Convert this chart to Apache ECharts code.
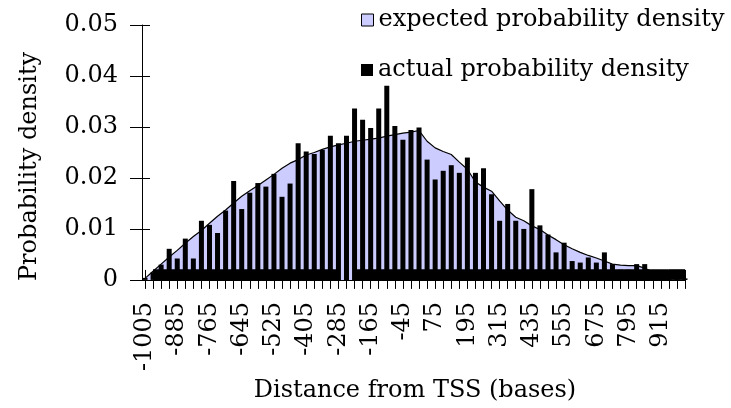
<!DOCTYPE html>
<html>
<head>
<meta charset="utf-8">
<script src="https://cdn.jsdelivr.net/npm/echarts@6/dist/echarts.min.js"></script>
<style>
html,body{margin:0;padding:0;background:#fff;}
#chart{width:731px;height:408px;}
</style>
</head>
<body>
<div id="chart"></div>
<script>
const categories = ['-1005','-975','-945','-915','-885','-855','-825','-795','-765','-735','-705','-675','-645','-615','-585','-555','-525','-495','-465','-435','-405','-375','-345','-315','-285','-255','-225','-195','-165','-135','-105','-75','-45','-15','15','45','75','105','135','165','195','225','255','285','315','345','375','405','435','465','495','525','555','585','615','645','675','705','735','765','795','825','855','885','915','945','975','1005'];

const expectedDensity = [0.0003,0.0017,0.0031,0.0045,0.0058,0.0072,0.0085,0.0097,0.0111,0.0125,0.0137,0.0151,0.0164,0.0175,0.0185,0.0196,0.0207,0.0219,0.0229,0.0236,0.0245,0.0250,0.0256,0.0261,0.0265,0.0268,0.0272,0.0274,0.0276,0.0278,0.0282,0.0285,0.0288,0.0290,0.0293,0.0272,0.0259,0.0252,0.0246,0.0231,0.0217,0.0192,0.0182,0.0174,0.0155,0.0137,0.0123,0.0116,0.0106,0.0099,0.0088,0.0079,0.0069,0.0061,0.0054,0.0048,0.0043,0.0037,0.0031,0.0029,0.0028,0.0028,0.0023,0.0016,0.0011,0.0011,0.0008,0.0005];

const actualDensity = [0.0004,0.0015,0.0030,0.0061,0.0042,0.0081,0.0042,0.0116,0.0108,0.0092,0.0136,0.0194,0.0139,0.0171,0.0190,0.0183,0.0208,0.0163,0.0189,0.0268,0.0252,0.0247,0.0255,0.0283,0.0268,0.0283,0.0336,0.0314,0.0298,0.0336,0.0381,0.0302,0.0275,0.0294,0.0299,0.0236,0.0197,0.0214,0.0225,0.0210,0.0240,0.0210,0.0219,0.0168,0.0116,0.0149,0.0116,0.0100,0.0178,0.0107,0.0089,0.0054,0.0073,0.0037,0.0034,0.0044,0.0034,0.0054,0.0031,0.0020,0.0020,0.0031,0.0031,0.0018,0.0005,0.0019,0.0008,0.0003];

// dark strip along the baseline (category ranges)
const baseStripRanges = [['-975','-315'],['-225','915'],['945','975']];
const baseStripTop = 0.0021;

const seriesNames = ['expected probability density','actual probability density'];
const yTicks = {min:0, max:0.05, interval:0.01};

const FONT = 'DejaVu Serif';
const chart = echarts.init(document.getElementById('chart'), null, {renderer:'canvas'});

const option = {
  animation:false,
  backgroundColor:'#fff',
  textStyle:{fontFamily:FONT,color:'#000'},
  grid:{left:145,right:46,top:25,bottom:128},
  legend:[
    {data:[{name:seriesNames[0],icon:'rect',itemStyle:{color:'#CCCCFF',borderColor:'#000',borderWidth:1}}],
     left:361,top:8,padding:0,itemWidth:12,itemHeight:12,selectedMode:false,
     textStyle:{fontFamily:FONT,fontSize:24,color:'#000'}},
    {data:[{name:seriesNames[1],icon:'rect',itemStyle:{color:'#000'}}],
     left:361,top:58,padding:0,itemWidth:12,itemHeight:12,selectedMode:false,
     textStyle:{fontFamily:FONT,fontSize:24,color:'#000'}}
  ],
  xAxis:[
    {type:'category',data:categories,boundaryGap:false,
     axisLine:{onZero:false,lineStyle:{color:'#000',width:1}},
     axisTick:{interval:0,length:9,lineStyle:{color:'#000',width:1}},
     axisLabel:{interval:3,rotate:90,margin:22,fontSize:24,fontFamily:FONT,color:'#000'},
     splitLine:{show:false},
     name:'Distance from TSS (bases)',nameLocation:'middle',nameGap:81,
     nameTextStyle:{fontSize:24,fontFamily:FONT,color:'#000'}},
    {type:'category',data:categories,boundaryGap:false,position:'bottom',
     axisLine:{show:false,onZero:false},
     axisTick:{interval:0,inside:true,length:10,lineStyle:{color:'#000',width:1}},
     axisLabel:{show:false},splitLine:{show:false}}
  ],
  yAxis:[
    {type:'value',min:yTicks.min,max:yTicks.max,interval:yTicks.interval,offset:3,
     axisLine:{show:true,lineStyle:{color:'#000',width:1}},
     axisTick:{show:true,length:12,lineStyle:{color:'#000',width:1}},
     axisLabel:{margin:24,fontSize:24,fontFamily:FONT,color:'#000'},
     splitLine:{show:false},
     name:'Probability density',nameLocation:'middle',nameGap:100,
     nameTextStyle:{fontSize:24,fontFamily:FONT,color:'#000',padding:[0,28,0,0]}},
    {type:'value',min:yTicks.min,max:yTicks.max,interval:yTicks.interval,offset:3,position:'left',
     axisLine:{show:false},
     axisTick:{show:true,inside:true,length:8,lineStyle:{color:'#000',width:1}},
     axisLabel:{show:false},splitLine:{show:false}}
  ],
  series:[
    {name:seriesNames[0],type:'line',data:expectedDensity,xAxisIndex:0,yAxisIndex:0,
     symbol:'none',z:1,
     itemStyle:{color:'#CCCCFF'},
     lineStyle:{color:'#000',width:1.2},
     areaStyle:{color:'#CCCCFF',opacity:1}},
    {name:seriesNames[1],type:'bar',data:actualDensity,xAxisIndex:0,yAxisIndex:0,
     barWidth:5,z:3,
     itemStyle:{color:'#000'},
     markArea:{silent:true,z:4,itemStyle:{color:'#000',opacity:1},label:{show:false},
       data:baseStripRanges.map(r=>[
         {xAxis:categories.indexOf(r[0]),yAxis:0},
         {xAxis:categories.indexOf(r[1]),yAxis:baseStripTop}])}}
  ]
};
chart.setOption(option);
</script>
</body>
</html>
